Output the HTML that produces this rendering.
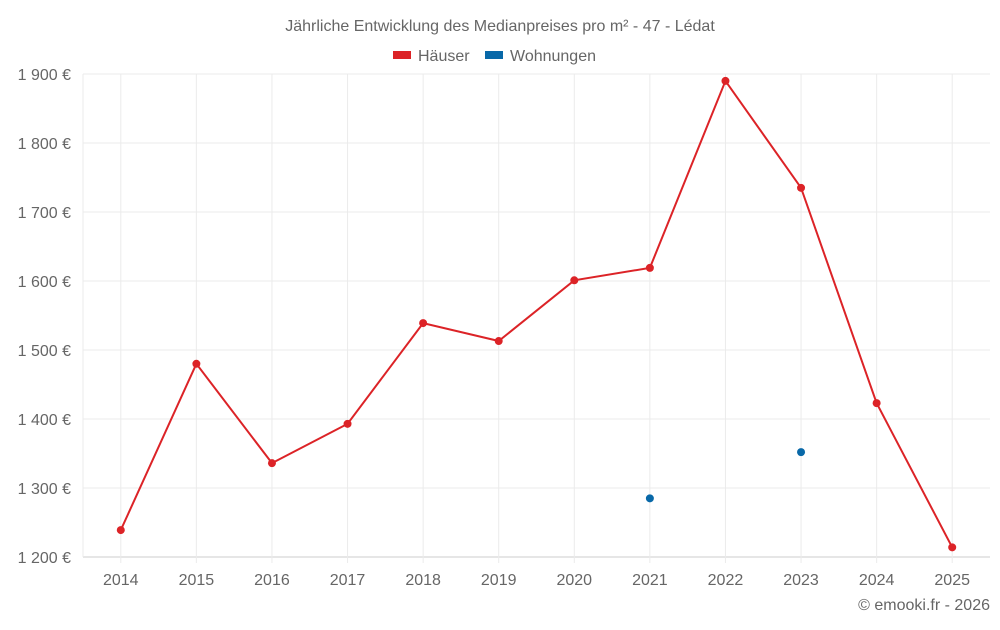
<!DOCTYPE html>
<html><head><meta charset="utf-8"><style>
body{margin:0;background:#fff;font-family:"Liberation Sans",sans-serif;}
svg text{font-family:"Liberation Sans",sans-serif;fill:#666;}
</style></head><body>
<svg width="1000" height="625">
<text x="500" y="31" text-anchor="middle" font-size="16">Jährliche Entwicklung des Medianpreises pro m² - 47 - Lédat</text>
<g>
<g><rect x="393" y="51" width="18" height="8" fill="#dc2327"/><text x="418" y="61" font-size="16">Häuser</text></g>
<g><rect x="485" y="51" width="18" height="8" fill="#0868a8"/><text x="510" y="61" font-size="16">Wohnungen</text></g>
</g>
<g id="grid"></g><g id="axes"></g><g id="marks"></g>
<text x="990" y="610" text-anchor="end" font-size="16">© emooki.fr - 2026</text>
</svg>
<script>
const years=["2014","2015","2016","2017","2018","2019","2020","2021","2022","2023","2024","2025"];
const haeuser=[1239,1480,1336,1393,1539,1513,1601,1619,1890,1735,1423,1214];
const wohnungen=[null,null,null,null,null,null,null,1285,null,1352,null,null];
const yTicks=[1200,1300,1400,1500,1600,1700,1800,1900];
const yTickLabels=["1 200 €","1 300 €","1 400 €","1 500 €","1 600 €","1 700 €","1 800 €","1 900 €"];
const L=83,R=990,T=74,B=557;
const bw=(R-L)/years.length;
const x=i=>L+bw*(i+0.5);
const y=v=>B-(v-1200)/(1900-1200)*(B-T);
const ns="http://www.w3.org/2000/svg";
function mk(p,t,a){const e=document.createElementNS(ns,t);for(const k in a)e.setAttribute(k,a[k]);document.getElementById(p).appendChild(e);return e;}
yTicks.forEach((v,i)=>{
 const g=mk('grid','line',{x1:L,x2:R,y1:y(v),y2:y(v),stroke:i==0?'#ccc':'#ebebeb'});
 
 
 const t=mk('axes','text',{x:71,y:y(v)+6,'text-anchor':'end','font-size':16});
 t.textContent=yTickLabels[i];
 
 
});
const v0=mk('grid','line',{x1:L,x2:L,y1:T,y2:B,stroke:'#ebebeb'});


years.forEach((yr,i)=>{
 const g=mk('grid','line',{x1:x(i),x2:x(i),y1:T,y2:B+6,stroke:'#ebebeb'});
 
 
 const t=mk('axes','text',{x:x(i),y:585,'text-anchor':'middle','font-size':16});
 t.textContent=yr;
 
 
});
const line=mk('marks','polyline',{points:haeuser.map((v,i)=>x(i)+','+y(v)).join(' '),fill:'none',stroke:'#dc2327','stroke-width':2});


haeuser.forEach((v,i)=>{
 const c=mk('marks','circle',{cx:x(i),cy:y(v),r:4,fill:'#dc2327'});
 
 
});
wohnungen.forEach((v,i)=>{
 if(v==null)return;
 const c=mk('marks','circle',{cx:x(i),cy:y(v),r:4,fill:'#0868a8'});
 
 
});
</script>
</body></html>
